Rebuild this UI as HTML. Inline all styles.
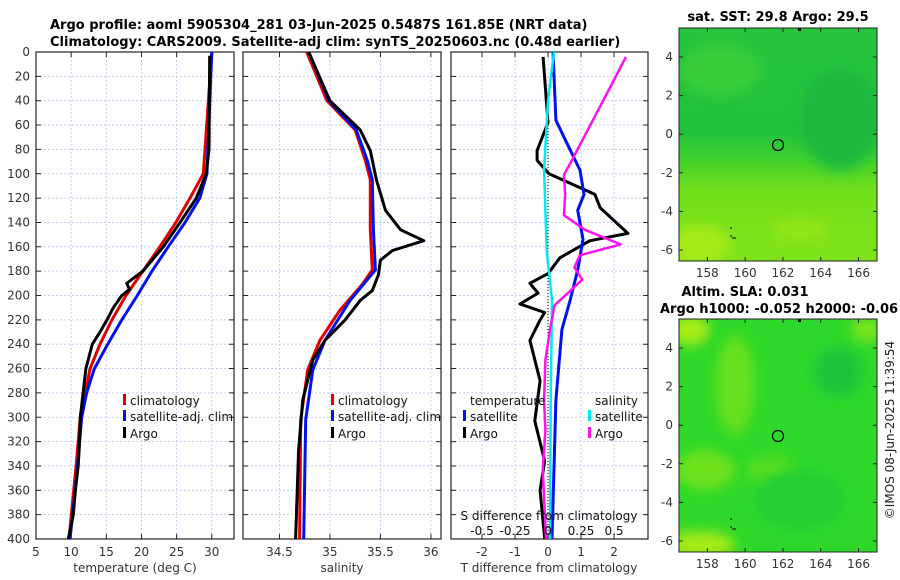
<!DOCTYPE html>
<html><head><meta charset="utf-8"><style>
html,body{margin:0;padding:0;background:#fff}
svg{display:block;font-family:"DejaVu Sans","Liberation Sans",sans-serif}
.t{font-size:12px;fill:#333}
.b{font-size:13px;font-weight:bold;fill:#000}
</style></head><body>
<svg id="fig" width="900" height="580" viewBox="0 0 900 580">
<defs>
<filter id="bl" x="-50%" y="-50%" width="200%" height="200%"><feGaussianBlur stdDeviation="6"/></filter>
<clipPath id="c1"><rect x="679" y="28" width="198" height="233"/></clipPath>
<clipPath id="c2"><rect x="679" y="319" width="198" height="233"/></clipPath>
<linearGradient id="g1" x1="0" y1="0" x2="0" y2="1">
<stop offset="0" stop-color="#27c53e"/><stop offset="0.45" stop-color="#22c23c"/><stop offset="0.55" stop-color="#3ccf2e"/><stop offset="0.7" stop-color="#72e01c"/><stop offset="1" stop-color="#7fe31a"/></linearGradient>
</defs>
<text class="b" x="50" y="29">Argo profile: aoml 5905304_281 03-Jun-2025 0.5487S 161.85E (NRT data)</text>
<text class="b" x="50" y="46">Climatology: CARS2009. Satellite-adj clim: synTS_20250603.nc (0.48d earlier)</text>
<g id="p1"></g>
<g id="p2"></g>
<g id="p3"></g>

<g>
<text class="b" x="778" y="21" text-anchor="middle">sat. SST: 29.8 Argo: 29.5</text>
<g clip-path="url(#c1)">
<rect x="679" y="28" width="198" height="233" fill="url(#g1)"/>
<ellipse cx="700" cy="245" rx="30" ry="20" fill="#a6ea14" filter="url(#bl)"/>
<ellipse cx="800" cy="230" rx="30" ry="12" fill="#90e616" filter="url(#bl)"/>
<ellipse cx="840" cy="120" rx="40" ry="50" fill="#1db83f" filter="url(#bl)"/>
<ellipse cx="720" cy="70" rx="40" ry="25" fill="#38cd38" filter="url(#bl)"/>
</g>
<rect x="679" y="28" width="198" height="233" fill="none" stroke="#222"/>
<rect x="798" y="28" width="3" height="3" fill="#000"/>
<path d="M731 227v2M731 235v2M732 238h4" stroke="#000" stroke-width="1"/>
<circle cx="778" cy="145" r="5.5" fill="none" stroke="#000" stroke-width="1.2"/>
<g id="m1ax"></g>
</g>

<g>
<text class="b" x="745" y="296" text-anchor="middle">Altim. SLA: 0.031</text>
<text class="b" x="660" y="313">Argo h1000: -0.052 h2000: -0.06</text>
<g clip-path="url(#c2)">
<rect x="679" y="319" width="198" height="233" fill="#2ed82a"/>
<ellipse cx="690" cy="330" rx="20" ry="15" fill="#a8ec12" filter="url(#bl)"/>
<ellipse cx="735" cy="385" rx="20" ry="50" fill="#66e01e" filter="url(#bl)"/>
<ellipse cx="705" cy="470" rx="30" ry="20" fill="#6ee11e" filter="url(#bl)"/>
<ellipse cx="700" cy="545" rx="35" ry="14" fill="#a6ea12" filter="url(#bl)"/>
<ellipse cx="770" cy="470" rx="25" ry="15" fill="#55dc22" filter="url(#bl)"/>
<ellipse cx="866" cy="330" rx="15" ry="12" fill="#7ee41a" filter="url(#bl)"/>
<ellipse cx="838" cy="372" rx="25" ry="25" fill="#1fc43a" filter="url(#bl)"/>
<ellipse cx="800" cy="500" rx="45" ry="30" fill="#24ce30" filter="url(#bl)"/>
</g>
<rect x="679" y="319" width="198" height="233" fill="none" stroke="#222"/>
<rect x="798" y="319" width="3" height="3" fill="#000"/>
<path d="M731 518v2M731 526v2M732 529h4" stroke="#000" stroke-width="1"/>
<circle cx="778" cy="436" r="5.5" fill="none" stroke="#000" stroke-width="1.2"/>
<g id="m2ax"></g>
</g>
<text class="t" transform="translate(894,430) rotate(-90)" text-anchor="middle" style="fill:#222">©IMOS 08-Jun-2025 11:39:54</text>
</svg>
<script>
// ---------- data ----------
const depthTicks=[0,20,40,60,80,100,120,140,160,180,200,220,240,260,280,300,320,340,360,380,400];
const tempTicks=[5,10,15,20,25,30];
const salTicks=[34.5,35,35.5,36];
const tdiffTicks=[-2,-1,0,1,2];
const sdiffTicks=[-0.5,-0.25,0,0.25,0.5];
const sdiffLabels=["-0.5","-0.25","0","0.25","0.5"];
const lonTicks=[158,160,162,164,166];
const latTicks=[4,2,0,-2,-4,-6];

const tClimDepth=[0,100,120,140,160,180,200,220,240,260,300,340,400];
const tClimVal=[30.0,28.8,26.9,24.9,22.6,20.2,17.8,15.8,14.1,12.7,11.3,10.7,9.7];
const tSatDepth=[0,100,120,140,160,180,200,220,240,260,280,300,340,400];
const tSatVal=[30.0,29.3,28.3,26.2,23.8,21.5,19.4,17.2,15.2,13.3,12.2,11.5,10.9,9.85];
const tArgoDepth=[3,80,100,120,140,160,180,190,195,200,210,220,230,240,260,280,300,320,340,360,380,400];
const tArgoVal=[29.7,29.6,29.2,27.8,25.5,23.1,20.2,17.9,18.3,17.2,16.0,15.1,14.1,13.0,12.1,11.7,11.3,11.2,11.0,10.6,10.3,9.6];

const sClimDepth=[0,40,64,89,105,146,179,191,212,237,261,302,400];
const sClimVal=[34.77,34.97,35.25,35.35,35.40,35.40,35.42,35.32,35.10,34.90,34.78,34.71,34.70];
const sSatDepth=[0,40,64,89,105,146,179,204,237,261,302,400];
const sSatVal=[34.79,34.99,35.26,35.37,35.42,35.43,35.45,35.20,34.95,34.83,34.76,34.74];
const sArgoDepth=[0,40,64,81,105,130,146,155,163,171,183,196,204,220,237,253,286,327,400];
const sArgoVal=[34.79,35.0,35.3,35.4,35.46,35.55,35.7,35.93,35.62,35.5,35.48,35.42,35.3,35.15,34.95,34.83,34.73,34.69,34.66];

const dTArgoDepth=[4,58,81,89,100,117,128,149,155,169,182,190,198,207,214,220,237,270,303,336,360,400];
const dTArgoVal=[-0.15,0,-0.33,-0.33,0.03,1.42,1.58,2.42,1.27,0.36,0,-0.55,-0.3,-0.85,-0.1,-0.24,-0.55,-0.24,-0.4,-0.1,-0.24,-0.1];
const dTSatDepth=[0,56,72,97,117,130,154,179,204,228,286,400];
const dTSatVal=[0.15,0.24,0.52,0.97,1.09,0.9,1.06,0.9,0.67,0.42,0.24,0.12];
const dSSatDepth=[0,40,97,163,204,286,400];
const dSSatVal=[0.045,0,-0.03,-0.01,0.03,0.02,0.015];
const dSArgoDepth=[4,23,56,89,101,117,134,146,158,167,177,187,200,208,228,253,286,311,343,400];
const dSArgoVal=[0.59,0.5,0.34,0.18,0.12,0.13,0.12,0.28,0.55,0.24,0.2,0.26,0.13,0.05,0.015,-0.02,-0.03,-0.02,-0.04,-0.015];

// ---------- helpers ----------
const NS="http://www.w3.org/2000/svg";
function mk(parent,tag,attrs,text){const e=document.createElementNS(NS,tag);for(const k in attrs)e.setAttribute(k,attrs[k]);if(text!==undefined)e.textContent=text;parent.appendChild(e);return e;}
const TOP=52,BOT=539;
const yD=d=>TOP+(BOT-TOP)*d/400;

function panel(g,L,R,xmin,xmax,xt,xlabels,showY,name){
  const x=v=>L+(v-xmin)/(xmax-xmin)*(R-L);
  for(const d of depthTicks){const y=yD(d);
    if(d>0&&d<400){const gl=mk(g,'line',{x1:L,x2:R,y1:y,y2:y,stroke:'#b8c4ee','stroke-width':0.8,'stroke-dasharray':'2,2'});
    
    }
    const tk=mk(g,'path',{d:`M${L} ${y}h5M${R} ${y}h-5`,stroke:'#222','stroke-width':1});
    
    
    if(showY){const tl=mk(g,'text',{class:'t',x:L-6,y:y+4,'text-anchor':'end'},String(d));
      
      }
  }
  xt.forEach((v,i)=>{const X=x(v);
    if(X>L+1&&X<R-1){const gl=mk(g,'line',{x1:X,x2:X,y1:TOP,y2:BOT,stroke:'#b8c4ee','stroke-width':0.8,'stroke-dasharray':'2,2'});
    
    }
    const tk=mk(g,'path',{d:`M${X} ${BOT}v-5M${X} ${TOP}v5`,stroke:'#222'});
    
    
    if(xlabels){const tl=mk(g,'text',{class:'t',x:X,y:BOT+17,'text-anchor':'middle'},xlabels[i]);
      
      }
  });
  const fr=mk(g,'rect',{x:L,y:TOP,width:R-L,height:BOT-TOP,fill:'none',stroke:'#222','stroke-width':1.2});
  
  
  return x;
}
function line(g,x,ds,vs,color,w,name){
  const d=ds.map((dd,i)=>(i?'L':'M')+x(vs[i]).toFixed(1)+' '+yD(dd).toFixed(1)).join('');
  const p=mk(g,'path',{d,fill:'none',stroke:color,'stroke-width':w,'stroke-linejoin':'round'});
  
  
}
function legend(g,x,y,color,label,name){
  const m=mk(g,'rect',{x:x-7,y:y-11,width:3,height:11,fill:color});
  
  
  const t=mk(g,'text',{class:'t',x:x,y:y,style:'fill:#111'},label);
  
  
}

// Panel 1
const g1=document.getElementById('p1');
const x1=panel(g1,36,234,5,33.16,tempTicks,tempTicks.map(String),true,'temperature-panel');
line(g1,x1,tClimDepth,tClimVal,'#e00000',3,'temperature-climatology-line');
line(g1,x1,tSatDepth,tSatVal,'#0010ee',3,'temperature-satellite-line');
line(g1,x1,tArgoDepth,tArgoVal,'#000',3,'temperature-argo-line');
legend(g1,130,405,'#e00000','climatology','legend-climatology');
legend(g1,130,421,'#0010ee','satellite-adj. clim','legend-satellite-adj');
legend(g1,130,438,'#000','Argo','legend-argo');
{const t=mk(g1,'text',{class:'t',x:135,y:572,'text-anchor':'middle'},'temperature (deg C)');

}

// Panel 2
const g2=document.getElementById('p2');
const x2=panel(g2,243,441,34.139,36.1,salTicks,salTicks.map(String),false,'salinity-panel');
line(g2,x2,sClimDepth,sClimVal,'#e00000',3,'salinity-climatology-line');
line(g2,x2,sSatDepth,sSatVal,'#0010ee',3,'salinity-satellite-line');
line(g2,x2,sArgoDepth,sArgoVal,'#000',3,'salinity-argo-line');
legend(g2,338,405,'#e00000','climatology','legend-s-climatology');
legend(g2,338,421,'#0010ee','satellite-adj. clim','legend-s-satellite-adj');
legend(g2,338,438,'#000','Argo','legend-s-argo');
{const t=mk(g2,'text',{class:'t',x:342,y:572,'text-anchor':'middle'},'salinity');

}

// Panel 3
const g3=document.getElementById('p3');
const x3=panel(g3,451,648,-2.94,3.03,tdiffTicks,tdiffTicks.map(String),false,'difference-panel');
const xs=v=>x3(v*4);
{const z=mk(g3,'line',{x1:x3(0),x2:x3(0),y1:yD(55),y2:BOT,stroke:'#000','stroke-width':1,'stroke-dasharray':'1,2'});

}
line(g3,x3,dTArgoDepth,dTArgoVal,'#000',3,'tdiff-argo-line');
line(g3,x3,dTSatDepth,dTSatVal,'#0010ee',3,'tdiff-satellite-line');
line(g3,xs,dSSatDepth,dSSatVal,'#00e8f0',2.5,'sdiff-satellite-line');
line(g3,xs,dSArgoDepth,dSArgoVal,'#ff10ee',2.5,'sdiff-argo-line');
{const t=mk(g3,'text',{class:'t',x:470,y:405,style:'fill:#111'},'temperature');


const s=mk(g3,'text',{class:'t',x:595,y:405,style:'fill:#111'},'salinity');

}
legend(g3,470,421,'#0010ee','satellite','legend-t-satellite');
legend(g3,470,438,'#000','Argo','legend-t-argo');
legend(g3,595,421,'#00e8f0','satellite','legend-s-satellite');
legend(g3,595,438,'#ff10ee','Argo','legend-s-argo-diff');
{const t=mk(g3,'text',{class:'t',x:549,y:520,'text-anchor':'middle',style:'fill:#111'},'S difference from climatology');

}
sdiffTicks.forEach((v,i)=>{const t=mk(g3,'text',{class:'t',x:xs(v),y:535,'text-anchor':'middle',style:'fill:#111'},sdiffLabels[i]);

});
{const t=mk(g3,'text',{class:'t',x:549,y:572,'text-anchor':'middle'},'T difference from climatology');

}

// Map axes
function mapAxes(id,top){
  const g=document.getElementById(id);
  const L=679,R=877,B=top+233;
  const xl=lon=>L+(lon-156.5)*18.9;
  const yl=lat=>top+222-(lat+6)*19.3;
  lonTicks.forEach(v=>{const X=xl(v);
    const tk=mk(g,'path',{d:`M${X} ${B}v-4M${X} ${top}v4`,stroke:'#222'});
    
    
    const t=mk(g,'text',{class:'t',x:X,y:B+16,'text-anchor':'middle'},String(v));
    
    });
  latTicks.forEach(v=>{const Y=yl(v);
    const tk=mk(g,'path',{d:`M${L} ${Y}h4M${R} ${Y}h-4`,stroke:'#222'});
    
    
    const t=mk(g,'text',{class:'t',x:L-6,y:Y+4,'text-anchor':'end'},String(v));
    
    });
}
mapAxes('m1ax',28);
mapAxes('m2ax',319);
</script>
</body></html>
